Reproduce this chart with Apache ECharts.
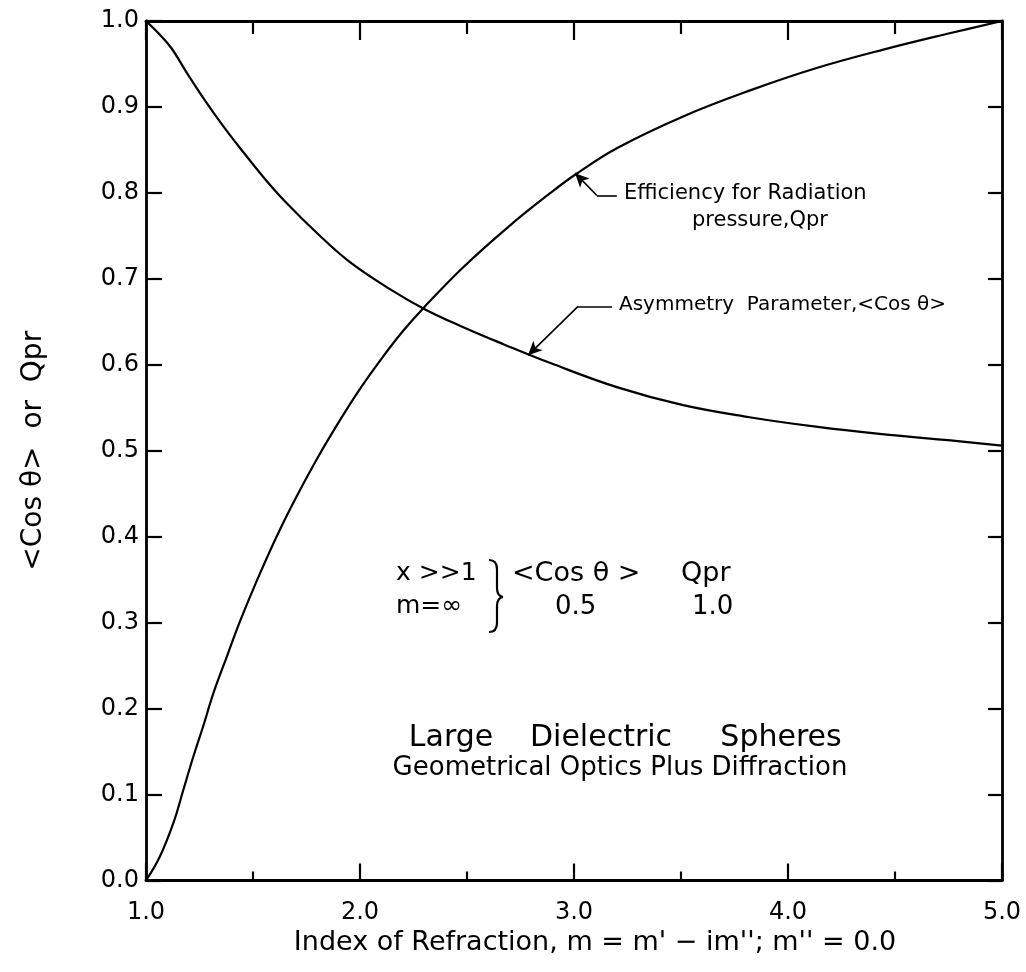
<!DOCTYPE html>
<html>
<head>
<meta charset="utf-8">
<script src="https://cdn.jsdelivr.net/npm/echarts@6/dist/echarts.min.js"></script>
<style>
html,body{margin:0;padding:0;background:#fff;}
#chart{width:1026px;height:972px;}
</style>
</head>
<body>
<div id="chart"></div>
<script>
// Index of refraction values and curves
const mQpr = [1.0, 1.065, 1.128, 1.174, 1.221, 1.268, 1.315, 1.38, 1.44, 1.52, 1.61, 1.70, 1.80, 1.90, 2.00, 2.10, 2.20, 2.30, 2.48, 2.70, 2.89, 3.01, 3.20, 3.51, 3.82, 4.13, 4.45, 4.76, 5.0];
const qpr  = [0.0, 0.028, 0.067, 0.105, 0.144, 0.180, 0.218, 0.262, 0.302, 0.350, 0.400, 0.445, 0.491, 0.533, 0.572, 0.607, 0.639, 0.667, 0.713, 0.762, 0.800, 0.822, 0.852, 0.889, 0.919, 0.945, 0.967, 0.986, 1.0];
const mAsym = [1.0, 1.065, 1.12, 1.19, 1.28, 1.36, 1.44, 1.55, 1.65, 1.80, 1.95, 2.14, 2.30, 2.48, 2.67, 2.89, 3.20, 3.51, 3.82, 4.13, 4.45, 4.76, 5.0];
const asym  = [1.0, 0.984, 0.968, 0.940, 0.906, 0.878, 0.852, 0.818, 0.790, 0.753, 0.720, 0.688, 0.665, 0.644, 0.624, 0.602, 0.574, 0.553, 0.539, 0.528, 0.519, 0.512, 0.506];
const xTickValues = [1.0, 2.0, 3.0, 4.0, 5.0];
const yTickValues = [0.0, 0.1, 0.2, 0.3, 0.4, 0.5, 0.6, 0.7, 0.8, 0.9, 1.0];
// Annotation leader lines (data coordinates): [line end, elbow, arrow tip]
const qprLeader  = [[3.20, 0.797], [3.107, 0.797], [3.005, 0.823]];
const asymLeader = [[3.178, 0.668], [3.019, 0.668], [2.785, 0.611]];

const FONT = 'DejaVu Sans';
const pairs = (xs, ys) => xs.map((x, i) => [x, ys[i]]);

const chart = echarts.init(document.getElementById('chart'), null, {renderer: 'canvas'});

function leader(pts) {
  return [
    [{coord: pts[0], symbol: 'none'}, {coord: pts[1], symbol: 'none'}],
    [{coord: pts[1], symbol: 'none'}, {coord: pts[2], symbol: 'arrow'}]
  ];
}

const axisLineStyle = {color: '#000', width: 2.8};
const tickStyle = {color: '#000', width: 2.2};
const braceStyle = {fill: 'none', stroke: '#000', lineWidth: 2.2};

chart.setOption({
  animation: false,
  backgroundColor: '#fff',
  grid: {left: 146, right: 24, top: 21, bottom: 91.5, containLabel: false},
  xAxis: [{
    type: 'value', min: 1, max: 5, interval: 1, position: 'bottom',
    axisLine: {show: true, onZero: false, lineStyle: axisLineStyle},
    axisTick: {show: true, inside: true, length: 17, lineStyle: tickStyle},
    minorTick: {show: true, splitNumber: 2, length: 9, lineStyle: tickStyle},
    splitLine: {show: false},
    axisLabel: {
      show: true, margin: 20, color: '#000', fontFamily: FONT, fontSize: 24,
      formatter: v => (xTickValues.find(t => Math.abs(t - v) < 1e-9) ?? v).toFixed(1)
    },
    name: "Index of Refraction, m = m' \u2212 im''; m'' = 0.0",
    nameLocation: 'middle', nameGap: 48,
    nameTextStyle: {color: '#000', fontFamily: FONT, fontSize: 27, padding: [0, 0, 0, 42]}
  }, {
    type: 'value', min: 1, max: 5, interval: 1, position: 'top',
    axisLine: {show: true, onZero: false, lineStyle: axisLineStyle},
    axisTick: {show: true, inside: true, length: 19, lineStyle: tickStyle},
    minorTick: {show: true, splitNumber: 2, length: 13, lineStyle: tickStyle},
    splitLine: {show: false},
    axisLabel: {show: false}
  }],
  yAxis: [{
    type: 'value', min: 0, max: 1, interval: 0.1, position: 'left',
    axisLine: {show: true, onZero: false, lineStyle: axisLineStyle},
    axisTick: {show: true, inside: true, length: 16, lineStyle: tickStyle},
    splitLine: {show: false},
    axisLabel: {
      show: true, margin: 7, color: '#000', fontFamily: FONT, fontSize: 24,
      formatter: v => (yTickValues.find(t => Math.abs(t - v) < 1e-9) ?? v).toFixed(1)
    },
    name: '<Cos \u03b8>  or  Qpr',
    nameLocation: 'middle', nameGap: 98, nameRotate: 90,
    nameTextStyle: {color: '#000', fontFamily: FONT, fontSize: 28}
  }, {
    type: 'value', min: 0, max: 1, interval: 0.1, position: 'right',
    axisLine: {show: true, onZero: false, lineStyle: axisLineStyle},
    axisTick: {show: true, inside: true, length: 14, lineStyle: tickStyle},
    splitLine: {show: false},
    axisLabel: {show: false}
  }],
  series: [{
    name: 'Qpr', type: 'line', xAxisIndex: 0, yAxisIndex: 0,
    data: pairs(mQpr, qpr), smooth: 0.4,
    showSymbol: false, lineStyle: {color: '#000', width: 2.2},
    markLine: {
      silent: true, symbolSize: [10, 14], label: {show: false},
      lineStyle: {color: '#000', width: 1.6, type: 'solid'},
      data: leader(qprLeader)
    }
  }, {
    name: '<Cos θ>', type: 'line', xAxisIndex: 0, yAxisIndex: 0,
    data: pairs(mAsym, asym), smooth: 0.4,
    showSymbol: false, lineStyle: {color: '#000', width: 2.2},
    markLine: {
      silent: true, symbolSize: [10, 14], label: {show: false},
      lineStyle: {color: '#000', width: 1.6, type: 'solid'},
      data: leader(asymLeader)
    }
  }],
  graphic: [
    {type: 'text', left: 624, top: 183, style: {text: 'Efficiency for Radiation', font: '21px "DejaVu Sans"', fill: '#000'}},
    {type: 'text', left: 692, top: 210, style: {text: 'pressure,Qpr', font: '21px "DejaVu Sans"', fill: '#000'}},
    {type: 'text', left: 619, top: 295, style: {text: 'Asymmetry  Parameter,<Cos \u03b8>', font: '20px "DejaVu Sans"', fill: '#000'}},
    {type: 'text', left: 396, top: 561, style: {text: 'x >>1', font: '25px "DejaVu Sans"', fill: '#000'}},
    {type: 'text', left: 396, top: 594, style: {text: 'm=\u221e', font: '25px "DejaVu Sans"', fill: '#000'}},
    {type: 'bezierCurve', shape: {x1: 489, y1: 560, cpx1: 497, cpy1: 560, x2: 497, y2: 569}, style: braceStyle},
    {type: 'line', shape: {x1: 497, y1: 569, x2: 497, y2: 588}, style: braceStyle},
    {type: 'bezierCurve', shape: {x1: 497, y1: 588, cpx1: 497, cpy1: 596, x2: 503, y2: 597}, style: braceStyle},
    {type: 'bezierCurve', shape: {x1: 503, y1: 597, cpx1: 497, cpy1: 598, x2: 497, y2: 606}, style: braceStyle},
    {type: 'line', shape: {x1: 497, y1: 606, x2: 497, y2: 623}, style: braceStyle},
    {type: 'bezierCurve', shape: {x1: 497, y1: 623, cpx1: 497, cpy1: 632, x2: 489, y2: 632}, style: braceStyle},
    {type: 'text', left: 512, top: 560, style: {text: '<Cos \u03b8 >', font: '27px "DejaVu Sans"', fill: '#000'}},
    {type: 'text', left: 681, top: 560, style: {text: 'Qpr', font: '27px "DejaVu Sans"', fill: '#000'}},
    {type: 'text', left: 555, top: 594, style: {text: '0.5', font: '26px "DejaVu Sans"', fill: '#000'}},
    {type: 'text', left: 692, top: 594, style: {text: '1.0', font: '26px "DejaVu Sans"', fill: '#000'}},
    {type: 'text', x: 451, y: 738, style: {text: 'Large', font: '30px "DejaVu Sans"', fill: '#000', align: 'center', verticalAlign: 'middle'}},
    {type: 'text', x: 601, y: 738, style: {text: 'Dielectric', font: '30px "DejaVu Sans"', fill: '#000', align: 'center', verticalAlign: 'middle'}},
    {type: 'text', x: 781, y: 738, style: {text: 'Spheres', font: '30px "DejaVu Sans"', fill: '#000', align: 'center', verticalAlign: 'middle'}},
    {type: 'text', x: 620, y: 768, style: {text: 'Geometrical Optics Plus Diffraction', font: '26px "DejaVu Sans"', fill: '#000', align: 'center', verticalAlign: 'middle'}}
  ]
});
</script>
</body>
</html>
